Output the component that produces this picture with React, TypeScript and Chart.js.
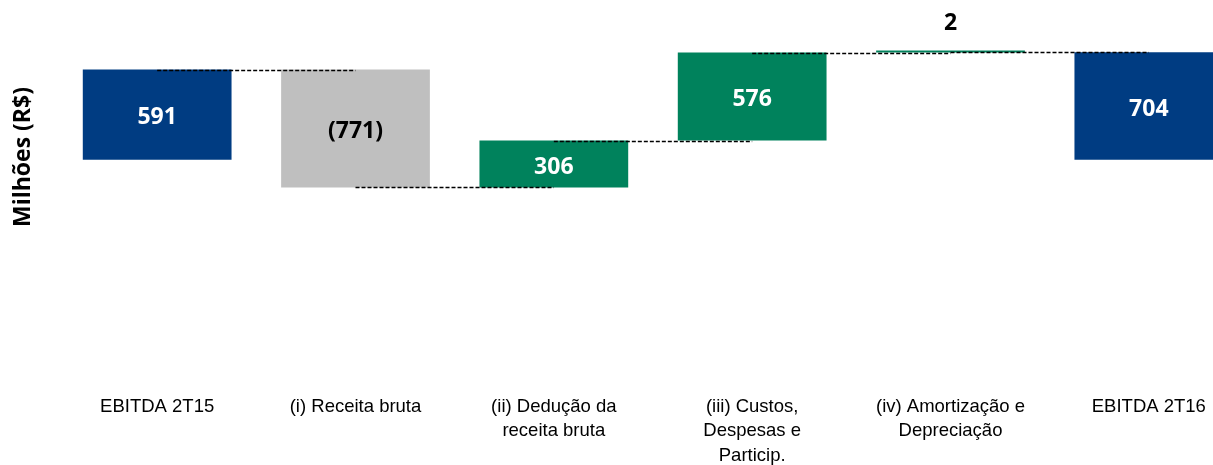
import { useEffect, useRef } from "react";
import { Chart, registerables } from "chart.js";

Chart.register(...registerables);

const categories: string[][] = [
  ["EBITDA 2T15"],
  ["(i) Receita bruta"],
  ["(ii) Dedução da", "receita bruta"],
  ["(iii) Custos,", "Despesas e", "Particip."],
  ["(iv) Amortização e", "Depreciação"],
  ["EBITDA 2T16"],
];
const values = [591, -771, 306, 576, 2, 704];
const isTotal = [true, false, false, false, false, true];
const barColors = ["#003C82", "#BFBFBF", "#00825C", "#00825C", "#00825C", "#003C82"];
const labelColors = ["#FFFFFF", "#000000", "#FFFFFF", "#FFFFFF", "#000000", "#FFFFFF"];
const yTitle = "Milhões (R$)";
const yMin = -1500;
const yMax = 1000;

function buildRanges() {
  const ranges: [number, number][] = [];
  const ends: number[] = [];
  let running = 0;
  values.forEach((v, i) => {
    if (isTotal[i]) {
      ranges.push([0, v]);
      running = v;
    } else {
      ranges.push([running, running + v]);
      running += v;
    }
    ends.push(running);
  });
  return { ranges, ends };
}

const fmt = (v: number) => (v < 0 ? `(${Math.abs(v)})` : `${v}`);

export default function App() {
  const ref = useRef<HTMLCanvasElement | null>(null);
  useEffect(() => {
    if (!ref.current) return;
    const { ranges, ends } = buildRanges();
    const waterfallPlugin = {
      id: "waterfallExtras",
      afterDatasetsDraw(chart: any) {
        const ctx = chart.ctx as CanvasRenderingContext2D;
        const meta = chart.getDatasetMeta(0);
        const ys = chart.scales.y;
        ctx.save();
        // connectors
        ctx.strokeStyle = "#000000";
        ctx.lineWidth = 1.4;
        ctx.setLineDash([4, 2]);
        for (let i = 0; i < meta.data.length - 1; i++) {
          const yy = Math.round(ys.getPixelForValue(ends[i])) + 0.5;
          ctx.beginPath();
          ctx.moveTo(meta.data[i].x, yy);
          ctx.lineTo(meta.data[i + 1].x, yy);
          ctx.stroke();
        }
        ctx.setLineDash([]);
        // value labels
        ctx.font = 'bold 23px "Open Sans", sans-serif';
        ctx.textAlign = "center";
        ctx.textBaseline = "middle";
        meta.data.forEach((bar: any, i: number) => {
          const top = Math.min(bar.y, bar.base);
          const bottom = Math.max(bar.y, bar.base);
          const h = bottom - top;
          const ty = h < 20 ? top - 27 : (top + bottom) / 2 + 3;
          ctx.fillStyle = labelColors[i];
          ctx.fillText(fmt(values[i]), bar.x, ty);
        });
        // y axis title
        const area = chart.chartArea;
        ctx.translate(area.left - 35, area.top + 150);
        ctx.rotate(-Math.PI / 2);
        ctx.fillStyle = "#000000";
        ctx.font = 'bold 23px "Open Sans", sans-serif';
        ctx.fillText(yTitle, 0, 0);
        ctx.restore();
      },
    };
    const chart = new Chart(ref.current, {
      type: "bar",
      data: {
        labels: categories,
        datasets: [
          {
            data: ranges as any,
            backgroundColor: barColors,
            borderWidth: 0,
            barPercentage: 0.75,
            categoryPercentage: 1,
            minBarLength: 2,
          },
        ],
      },
      options: {
        responsive: false,
        animation: false,
        events: [],
        layout: { padding: { top: 7, bottom: 3, left: 58, right: 12 } },
        plugins: {
          legend: { display: false },
          tooltip: { enabled: false },
          title: { display: false },
        },
        scales: {
          x: {
            grid: { display: false, drawTicks: false },
            border: { display: false },
            ticks: {
              autoSkip: false,
              maxRotation: 0,
              minRotation: 0,
              padding: 5,
              color: "#000000",
              font: { family: '"Liberation Sans", Arial, sans-serif', size: 18.5, lineHeight: 1.33 },
            },
          },
          y: {
            display: false,
            min: yMin,
            max: yMax,
          },
        },
      },
      plugins: [waterfallPlugin],
    });
    return () => chart.destroy();
  }, []);
  return (
    <div style={{ position: "fixed", left: 0, top: 0, width: 1213, height: 465, overflow: "hidden", background: "#fff" }}>
      <canvas ref={ref} width={1260} height={476} style={{ display: "block" }} />
    </div>
  );
}
